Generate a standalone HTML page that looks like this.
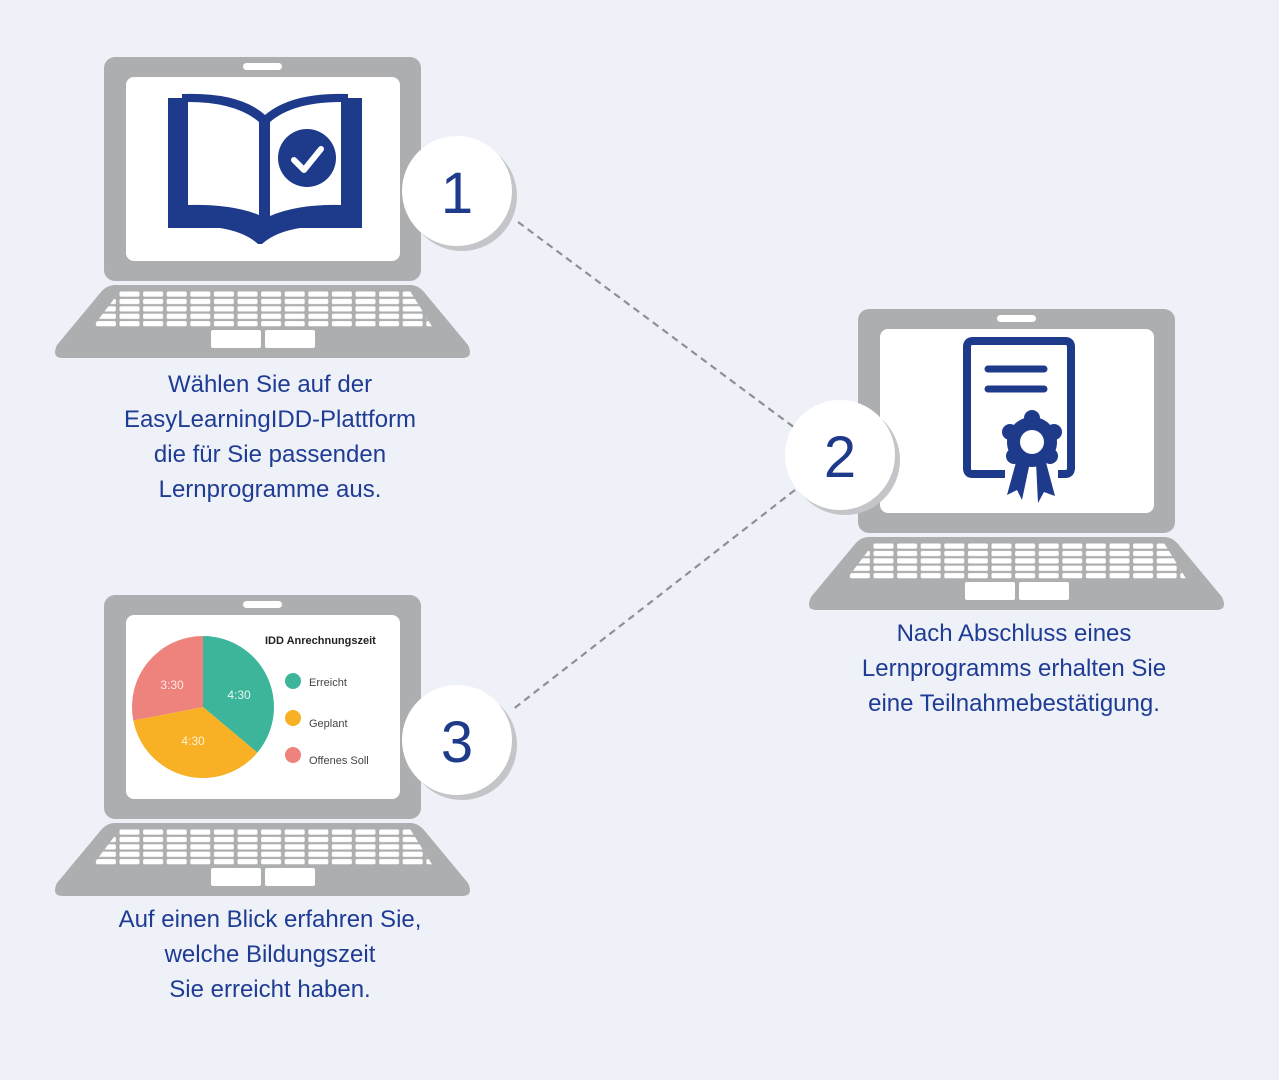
<!DOCTYPE html>
<html><head><meta charset="utf-8"><style>
html,body{margin:0;padding:0;background:#eff1f8;}
svg{display:block}
text{font-family:"Liberation Sans",sans-serif}
</style></head><body>
<svg width="1279" height="1080" viewBox="0 0 1279 1080" xmlns="http://www.w3.org/2000/svg">
<defs>
<pattern id="keys" x="0" y="291" width="23.6" height="7.4" patternUnits="userSpaceOnUse">
<rect x="1.5" y="0.5" width="20" height="5.2" rx="1.5" fill="#fff"/>
</pattern>
<g id="laptop">
<rect x="104" y="57" width="317" height="224" rx="11" fill="#adaeb0"/>
<rect x="126" y="77" width="274" height="184" rx="8" fill="#fff"/>
<rect x="243" y="63" width="39" height="7" rx="3.5" fill="#fff"/>
<path d="M115 285 H410 Q418 285 424 292 L468 345 Q474 358 462 358 H63 Q51 358 57 345 L101 292 Q107 285 115 285Z" fill="#adaeb0"/>
<polygon points="120,291 410,291 433,328 92,328" fill="url(#keys)"/>
<rect x="211" y="330" width="50" height="18" rx="2" fill="#fff"/>
<rect x="265" y="330" width="50" height="18" rx="2" fill="#fff"/>
</g>
<g id="badge">
<circle cx="5" cy="5" r="55" fill="#c4c5c8"/>
<circle cx="0" cy="0" r="55" fill="#fff"/>
</g>
</defs>

<line x1="518" y1="222" x2="795" y2="428" stroke="#8f9094" stroke-width="2.2" stroke-dasharray="7,5"/>
<line x1="795" y1="490" x2="512" y2="710" stroke="#8f9094" stroke-width="2.2" stroke-dasharray="7,5"/>

<use href="#laptop"/>
<use href="#laptop" transform="translate(754,252)"/>
<use href="#laptop" transform="translate(0,538)"/>

<!-- book -->
<path d="M168 98 H182 V94 Q240 92 265 115 Q292 92 348 94 V98 H362 V228 H300 Q275 232 262 244 H258 Q245 232 220 228 H168Z" fill="#1e3a8a"/>
<path d="M188 102 Q236 102 259 122 V215 Q232 204 188 205Z" fill="#fff"/>
<path d="M270 122 Q293 102 341 102 V205 Q298 204 270 216Z" fill="#fff"/>
<circle cx="307" cy="158" r="29" fill="#1e3a8a"/>
<path d="M294 160 L304 170 L321 149" stroke="#fff" stroke-width="6" fill="none" stroke-linecap="round" stroke-linejoin="round"/>

<!-- certificate -->
<path d="M1005 474 H972 Q967 474 967 468 V347 Q967 341 973 341 H1065 Q1071 341 1071 347 V468 Q1071 474 1065 474 H1058" stroke="#1e3a8a" stroke-width="8" fill="none"/>
<line x1="988" y1="369" x2="1044" y2="369" stroke="#1e3a8a" stroke-width="7" stroke-linecap="round"/>
<line x1="988" y1="389" x2="1044" y2="389" stroke="#1e3a8a" stroke-width="7" stroke-linecap="round"/>
<polygon points="1018,455 1007,495 1017,490 1022,500 1030,462" fill="#1e3a8a"/>
<polygon points="1036,462 1038,503 1044,492 1055,496 1044,455" fill="#1e3a8a"/>
<circle cx="1032" cy="442" r="25" fill="#1e3a8a"/>
<circle cx="1032" cy="418" r="8" fill="#1e3a8a"/><circle cx="1054" cy="432" r="8" fill="#1e3a8a"/><circle cx="1010" cy="432" r="8" fill="#1e3a8a"/><circle cx="1050" cy="456" r="8" fill="#1e3a8a"/><circle cx="1014" cy="456" r="8" fill="#1e3a8a"/>
<circle cx="1032" cy="442" r="12" fill="#fff"/>

<!-- pie -->
<path d="M203 707 L203 636 A71 71 0 0 1 257.4 752.6Z" fill="#3db59a"/>
<path d="M203 707 L257.4 752.6 A71 71 0 0 1 133.3 720.5Z" fill="#f8b024"/>
<path d="M203 707 L133.3 720.5 A71 71 0 0 1 203 636Z" fill="#ee827c"/>
<text x="239" y="699" font-size="12" fill="#e8f6f2" text-anchor="middle">4:30</text>
<text x="193" y="745" font-size="12" fill="#fff3d8" text-anchor="middle">4:30</text>
<text x="172" y="689" font-size="12" fill="#fde6e4" text-anchor="middle">3:30</text>
<text x="265" y="644" font-size="11" font-weight="bold" fill="#222">IDD Anrechnungszeit</text>
<circle cx="293" cy="681" r="8" fill="#3db59a"/><text x="309" y="686" font-size="11" fill="#444">Erreicht</text>
<circle cx="293" cy="718" r="8" fill="#f8b024"/><text x="309" y="727" font-size="11" fill="#444">Geplant</text>
<circle cx="293" cy="755" r="8" fill="#ee827c"/><text x="309" y="764" font-size="11" fill="#444">Offenes Soll</text>

<!-- badges -->
<use href="#badge" transform="translate(457,191)"/>
<use href="#badge" transform="translate(840,455)"/>
<use href="#badge" transform="translate(457,740)"/>
<g font-size="58" fill="#1e3a8a" text-anchor="middle">
<text x="457" y="213">1</text>
<text x="840" y="477">2</text>
<text x="457" y="762">3</text>
</g>

<g font-size="24" fill="#1f3c94" text-anchor="middle">
<text x="270" y="392">Wählen Sie auf der</text>
<text x="270" y="427">EasyLearningIDD-Plattform</text>
<text x="270" y="462">die für Sie passenden</text>
<text x="270" y="497">Lernprogramme aus.</text>
<text x="1014" y="641">Nach Abschluss eines</text>
<text x="1014" y="676">Lernprogramms erhalten Sie</text>
<text x="1014" y="711">eine Teilnahmebestätigung.</text>
<text x="270" y="927">Auf einen Blick erfahren Sie,</text>
<text x="270" y="962">welche Bildungszeit</text>
<text x="270" y="997">Sie erreicht haben.</text>
</g>
</svg>
</body></html>
